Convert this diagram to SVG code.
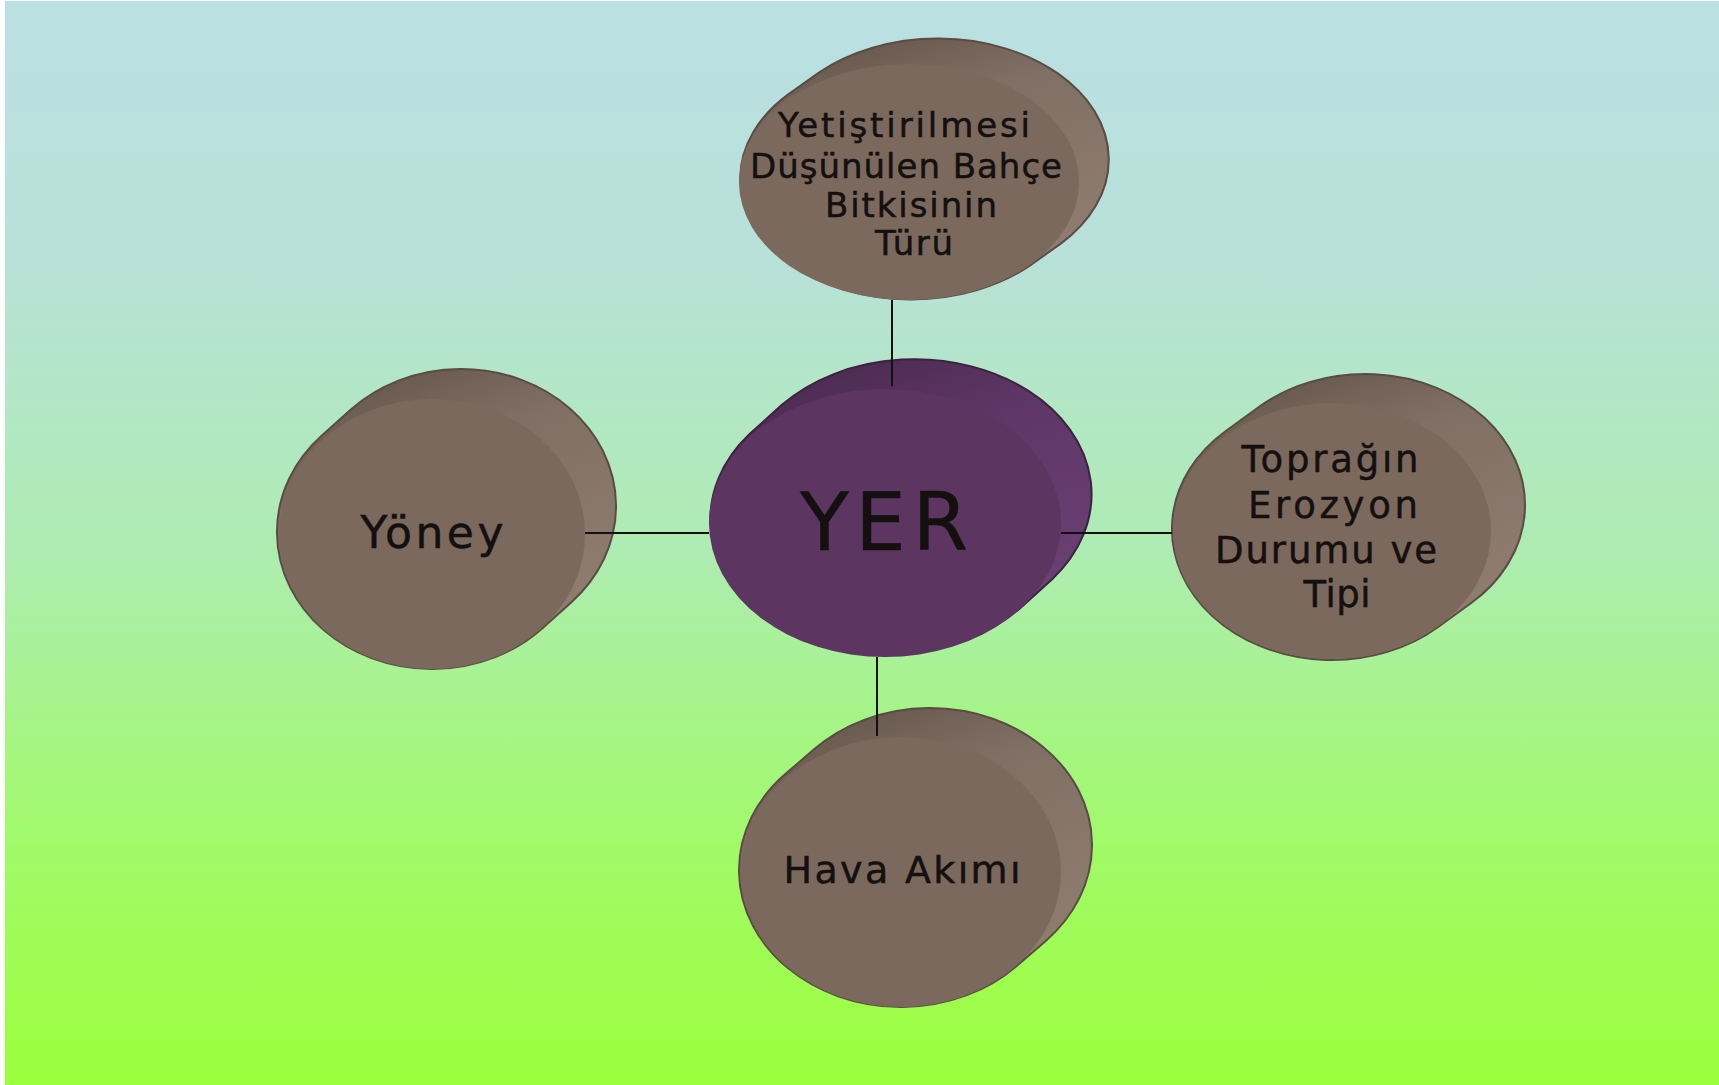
<svg xmlns="http://www.w3.org/2000/svg" width="1719" height="1085" viewBox="0 0 1719 1085">
  <defs>
    <linearGradient id="bg" x1="0" y1="0" x2="0" y2="1">
      <stop offset="0" stop-color="#bae0e2"/>
      <stop offset="0.23" stop-color="#b8e1d9"/>
      <stop offset="0.5" stop-color="#aeecb3"/>
      <stop offset="0.78" stop-color="#a0fa68"/>
      <stop offset="1" stop-color="#9cff3c"/>
    </linearGradient>
    <!-- disc rim, dark along the top, lighter towards the lower right -->
    <linearGradient id="rimBrown" x1="0.3" y1="0" x2="0.75" y2="1">
      <stop offset="0" stop-color="#66574d"/>
      <stop offset="0.3" stop-color="#806f64"/>
      <stop offset="1" stop-color="#928072"/>
    </linearGradient>
    <linearGradient id="rimPurple" x1="0.3" y1="0" x2="0.75" y2="1">
      <stop offset="0" stop-color="#4a2a4e"/>
      <stop offset="0.3" stop-color="#5e3666"/>
      <stop offset="1" stop-color="#6e4376"/>
    </linearGradient>
  </defs>
  <style>
    .rim-b { fill: url(#rimBrown); stroke: #5a4c43; stroke-width: 2; }
    .rim-p { fill: url(#rimPurple); stroke: #3c2240; stroke-width: 2; }
    .face-b { fill: #7b695d; }
    .face-p { fill: #5c3661; }
    .lbl { font-family: "DejaVu Sans", "Liberation Sans", sans-serif; fill: #141010; text-anchor: middle; stroke: #141010; stroke-width: 0.5; }
    .conn { stroke: #111; stroke-width: 2; fill: none; }
  </style>

  <!-- backdrop -->
  <rect x="5" y="1" width="1714" height="1084" fill="url(#bg)"/>

  <!-- top: plant type -->
  <g id="node-bitki-turu">
    <path class="rim-b" d="M787.9,94.6 L818.9,72.6 A171,121 0 0 1 1061.1,243.4 L1030.1,265.4 A171,121 0 0 1 787.9,94.6 Z"/>
    <ellipse class="face-b" cx="909" cy="182" rx="170" ry="118"/>
    <text class="lbl" font-size="34" x="904" y="137" textLength="252" lengthAdjust="spacing">Yetiştirilmesi</text>
    <text class="lbl" font-size="34" x="906" y="178" textLength="312" lengthAdjust="spacing">Düşünülen Bahçe</text>
    <text class="lbl" font-size="34" x="911" y="217" textLength="172" lengthAdjust="spacing">Bitkisinin</text>
    <text class="lbl" font-size="34" x="914" y="255" textLength="78" lengthAdjust="spacing">Türü</text>
  </g>

  <!-- left: aspect -->
  <g id="node-yoney">
    <path class="rim-b" d="M321.6,435.8 L350.6,409.8 A155,137 0 0 1 571.4,602.2 L542.4,628.2 A155,137 0 0 1 321.6,435.8 Z"/>
    <ellipse class="face-b" cx="432" cy="534" rx="153" ry="135"/>
    <text class="lbl" font-size="44" x="432" y="548" textLength="143" lengthAdjust="spacing">Yöney</text>
  </g>

  <!-- right: soil erosion -->
  <g id="node-erozyon">
    <path class="rim-b" d="M1225.8,431 L1258.8,407 A160,131 0 0 1 1471.2,603 L1438.2,627 A160,131 0 0 1 1225.8,431 Z"/>
    <ellipse class="face-b" cx="1332" cy="531" rx="159" ry="128"/>
    <text class="lbl" font-size="37" x="1330" y="472" textLength="177" lengthAdjust="spacing">Toprağın</text>
    <text class="lbl" font-size="37" x="1333" y="518" textLength="170" lengthAdjust="spacing">Erozyon</text>
    <text class="lbl" font-size="37" x="1326" y="563" textLength="222" lengthAdjust="spacing">Durumu ve</text>
    <text class="lbl" font-size="37" x="1337" y="607" textLength="67" lengthAdjust="spacing">Tipi</text>
  </g>

  <!-- bottom: air flow -->
  <g id="node-hava-akimi">
    <path class="rim-b" d="M785.3,774.1 L814.3,749.1 A162,137 0 0 1 1045.7,940.9 L1016.7,965.9 A162,137 0 0 1 785.3,774.1 Z"/>
    <ellipse class="face-b" cx="901" cy="872" rx="160" ry="135"/>
    <text class="lbl" font-size="38" x="902" y="883" textLength="237" lengthAdjust="spacing">Hava Akımı</text>
  </g>

  <!-- centre: YER -->
  <g id="node-yer">
    <path class="rim-p" d="M749.6,434.1 L781.6,405.1 A177,135 0 0 1 1052.4,578.9 L1020.4,607.9 A177,135 0 0 1 749.6,434.1 Z"/>
    <ellipse class="face-p" cx="885" cy="523" rx="176" ry="134"/>
    <text class="lbl" font-size="80" x="884" y="550" textLength="168" lengthAdjust="spacing" stroke-width="2">YER</text>
  </g>

  <!-- connectors -->
  <g id="connectors">
    <line class="conn" x1="892" y1="300" x2="892" y2="386"/>
    <line class="conn" x1="877" y1="657" x2="877" y2="736"/>
    <line class="conn" x1="585" y1="533" x2="709" y2="533"/>
    <line class="conn" x1="1061" y1="533" x2="1172" y2="533"/>
  </g>
</svg>
